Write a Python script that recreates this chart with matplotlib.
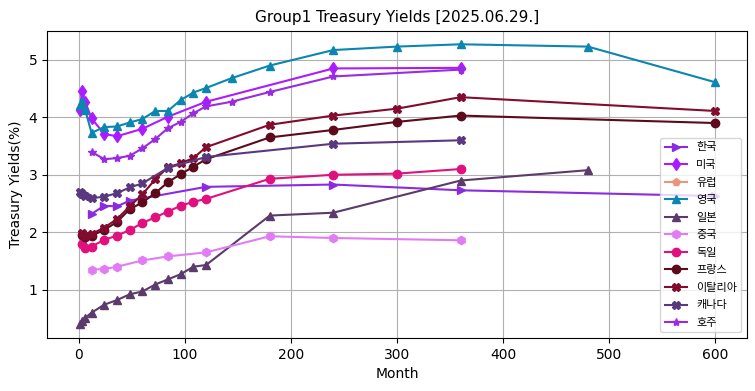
import matplotlib
matplotlib.use("Agg")
import matplotlib.pyplot as plt

plt.rcParams['font.family'] = ['DejaVu Sans', 'Noto Sans CJK KR']

title = "Group1 Treasury Yields [2025.06.29.]"

kr_m = [12, 24, 36, 48, 120, 240, 360, 600]
kr_v = [2.32, 2.46, 2.45, 2.55, 2.79, 2.83, 2.73, 2.63]

us_m = [1, 3, 6, 12, 24, 36, 60, 84, 120, 240, 360]
us_v = [4.13, 4.46, 4.27, 3.98, 3.71, 3.67, 3.80, 4.01, 4.27, 4.85, 4.86]

eu_m = []
eu_v = []

uk_m = [1, 3, 6, 12, 24, 36, 48, 60, 72, 84, 96, 108, 120, 144, 180, 240, 300, 360, 480, 600]
uk_v = [4.22, 4.29, 4.13, 3.73, 3.83, 3.84, 3.91, 3.97, 4.11, 4.11, 4.30, 4.43, 4.51, 4.68,
        4.90, 5.17, 5.23, 5.27, 5.23, 4.61]

jp_m = [1, 3, 6, 12, 24, 36, 48, 60, 72, 84, 96, 108, 120, 180, 240, 360, 480]
jp_v = [0.40, 0.45, 0.51, 0.60, 0.74, 0.82, 0.92, 0.97, 1.09, 1.18, 1.27, 1.40, 1.43,
        2.29, 2.34, 2.90, 3.08]

cn_m = [12, 24, 36, 60, 84, 120, 180, 240, 360]
cn_v = [1.35, 1.36, 1.40, 1.51, 1.58, 1.65, 1.93, 1.90, 1.86]

de_m = [3, 6, 12, 24, 36, 48, 60, 72, 84, 96, 108, 120, 180, 240, 300, 360]
de_v = [1.79, 1.73, 1.75, 1.87, 1.94, 2.04, 2.16, 2.26, 2.36, 2.46, 2.53, 2.58,
        2.93, 3.00, 3.02, 3.10]

fr_m = [3, 6, 12, 24, 36, 48, 60, 72, 84, 96, 108, 120, 180, 240, 300, 360, 600]
fr_v = [1.96, 1.92, 1.94, 2.04, 2.18, 2.40, 2.52, 2.68, 2.87, 3.01, 3.14, 3.27,
        3.65, 3.78, 3.92, 4.03, 3.90]

it_m = [3, 6, 12, 24, 36, 48, 60, 72, 84, 96, 108, 120, 180, 240, 300, 360, 600]
it_v = [1.98, 1.93, 1.97, 2.08, 2.23, 2.45, 2.66, 2.92, 3.13, 3.20, 3.29, 3.48,
        3.87, 4.03, 4.15, 4.35, 4.11]

ca_m = [1, 2, 3, 6, 12, 24, 36, 48, 60, 84, 120, 240, 360]
ca_v = [2.70, 2.69, 2.67, 2.63, 2.59, 2.62, 2.68, 2.78, 2.85, 3.12, 3.31, 3.54, 3.60]

au_m = [12, 24, 36, 48, 60, 72, 84, 96, 108, 120, 144, 180, 240, 360]
au_v = [3.40, 3.27, 3.29, 3.33, 3.46, 3.62, 3.81, 3.92, 4.07, 4.19, 4.27, 4.44, 4.71, 4.83]

series = [
    ("한국", kr_m, kr_v, '>', '#8a2be2'),
    ("미국", us_m, us_v, 'd', '#aa1cff'),
    ("유럽", eu_m, eu_v, 'p', '#e9967a'),
    ("영국", uk_m, uk_v, '^', '#0a86b0'),
    ("일본", jp_m, jp_v, '^', '#5c3a6b'),
    ("중국", cn_m, cn_v, 'h', '#e27cf5'),
    ("독일", de_m, de_v, 'o', '#e0117f'),
    ("프랑스", fr_m, fr_v, 'o', '#5e0a1d'),
    ("이탈리아", it_m, it_v, 'X', '#820b2e'),
    ("캐나다", ca_m, ca_v, 'X', '#5a3880'),
    ("호주", au_m, au_v, '*', '#9a2be0'),
]

fig = plt.figure(figsize=(7.55, 3.91), dpi=100)
ax = fig.add_axes([47/755, 1-338/391, (747-47)/755, (338-30.5)/391])

for name, m, v, mk, c in series:
    ax.plot(m, v, marker=mk, color=c, label=name, linewidth=1.5, markersize=6)

ax.set_xlim(-30, 630)
ax.set_ylim(0.16, 5.51)
ax.set_xticks([0, 100, 200, 300, 400, 500, 600])
ax.set_yticks([1, 2, 3, 4, 5])
ax.grid(True)
ax.set_title(title, fontsize=11)
ax.set_xlabel("Month")
ax.set_ylabel("Treasury Yields(%)")
ax.legend(loc='lower right', fontsize=8, labelspacing=0.68)

fig.savefig("out.png", dpi=100)
